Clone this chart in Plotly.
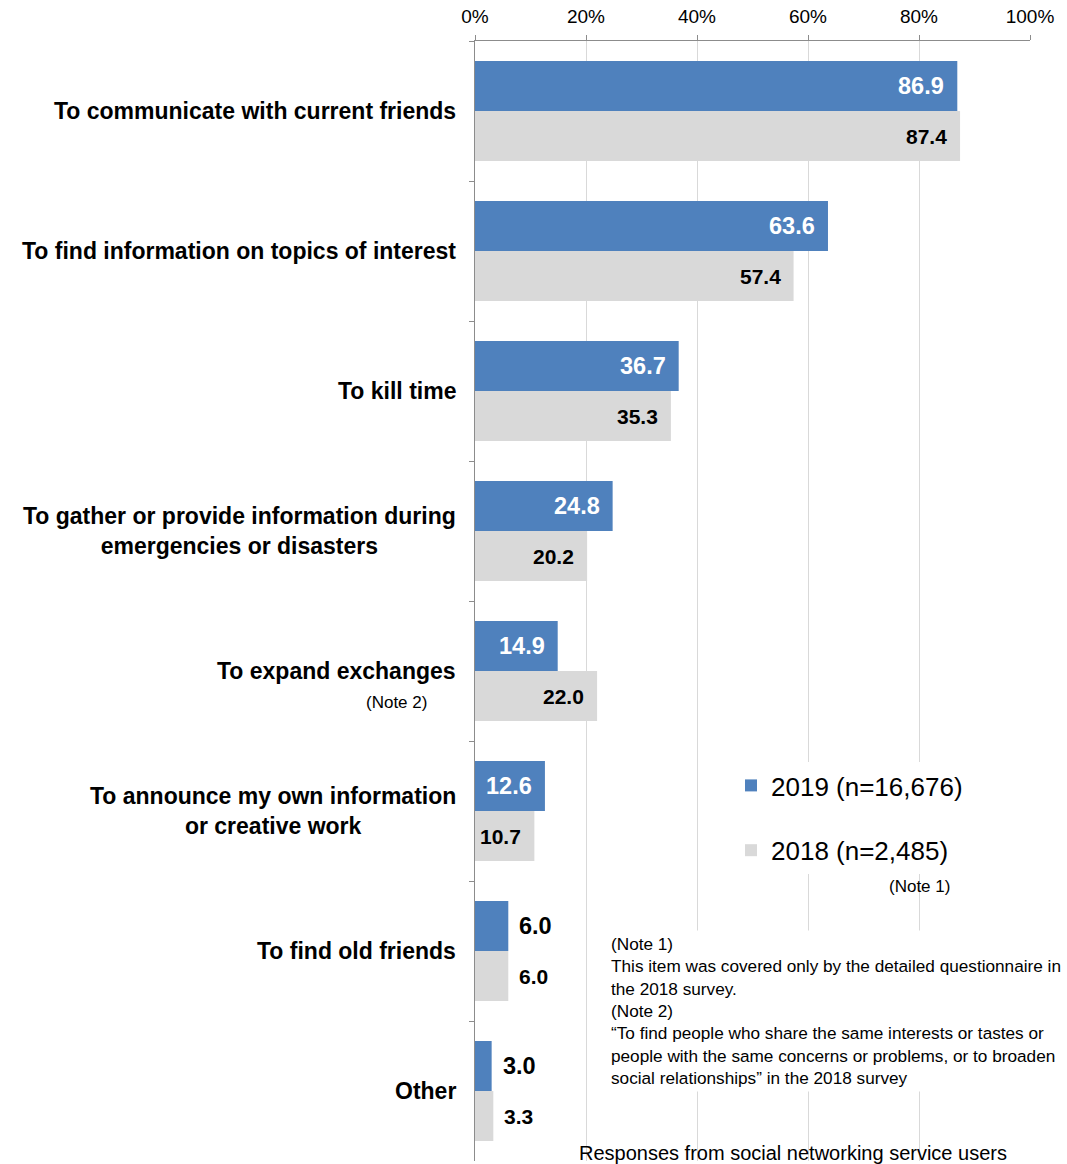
import plotly.graph_objects as go

# Reasons for using social networking services (multiple answers, %)
categories = [
    "To communicate with current friends",
    "To find information on topics of interest",
    "To kill time",
    "To gather or provide information during<br>emergencies or disasters",
    "To expand exchanges",
    "To announce my own information<br>or creative work",
    "To find old friends",
    "Other",
]
values_2019 = [86.9, 63.6, 36.7, 24.8, 14.9, 12.6, 6.0, 3.0]
values_2018 = [87.4, 57.4, 35.3, 20.2, 22.0, 10.7, 6.0, 3.3]
series_names = ["2019 (n=16,676)", "2018 (n=2,485)"]
tick_values = [0, 20, 40, 60, 80, 100]
tick_labels = ["0%", "20%", "40%", "60%", "80%", "100%"]

BLUE = "#4f81bd"
GREY = "#d9d9d9"
FONT = "Liberation Sans, Arial, sans-serif"

fig = go.Figure()
fig.add_trace(go.Bar(
    y=categories, x=values_2019, name=series_names[0], orientation="h",
    marker=dict(color=BLUE, line=dict(width=0)),
    legendgroup="a", hoverinfo="x+y",
))
fig.add_trace(go.Bar(
    y=categories, x=values_2018, name=series_names[1], orientation="h",
    marker=dict(color=GREY, line=dict(width=0)),
    legendgroup="b", hoverinfo="x+y",
))

annotations = []

# Category labels, centred lines, right-aligned against the axis
for cat in categories:
    annotations.append(dict(
        xref="paper", yref="y", x=0, y=cat, xanchor="right", yanchor="middle",
        xshift=-17, text=cat, showarrow=False, align="center",
        font=dict(family=FONT, size=23, color="#000000", weight="bold"),
    ))
annotations.append(dict(
    xref="paper", yref="y", x=0, y=categories[4], xanchor="right",
    yanchor="middle", xshift=-46, yshift=-31, text="(Note 2)",
    showarrow=False, font=dict(family=FONT, size=17, color="#000000"),
))

# Value labels: inside the bar end when it fits, otherwise just past it
for vals, offset, inside_color, size in (
    (values_2019, 25, "#ffffff", 23.5),
    (values_2018, -25, "#000000", 21),
):
    for cat, v in zip(categories, vals):
        inside = v >= 10
        annotations.append(dict(
            xref="x", yref="y", x=v, y=cat,
            xanchor="right" if inside else "left",
            xshift=-11 if inside else 9, yshift=offset,
            text=f"{v:.1f}", showarrow=False,
            font=dict(family=FONT, size=size, weight="bold",
                      color=inside_color if inside else "#000000"),
        ))

annotations.append(dict(
    xref="paper", yref="paper", x=(952 - 475) / 555, y=(1161 - 886) / 1120,
    xanchor="right", yanchor="middle", text="(Note 1)", showarrow=False,
    font=dict(family=FONT, size=17, color="#000000"),
))

notes = (
    "(Note 1)<br>"
    "This item was covered only by the detailed questionnaire in<br>"
    "the 2018 survey.<br>"
    "(Note 2)<br>"
    "\u201cTo find people who share the same interests or tastes or<br>"
    "people with the same concerns or problems, or to broaden<br>"
    "social relationships\u201d in the 2018 survey"
)
annotations.append(dict(
    xref="paper", yref="paper", x=(607 - 475) / 555, y=(1161 - 930) / 1120,
    xanchor="left", yanchor="top", text=notes, showarrow=False,
    align="left", bgcolor="#ffffff", borderpad=3,
    font=dict(family=FONT, size=17.2, color="#000000"),
))

annotations.append(dict(
    xref="paper", yref="paper", x=(793 - 475) / 555, y=(1161 - 1153) / 1120,
    xanchor="center", yanchor="middle",
    text="Responses from social networking service users", showarrow=False,
    font=dict(family=FONT, size=20, color="#000000"),
))

fig.update_layout(
    width=1067, height=1164,
    margin=dict(l=475, r=37, t=41, b=3, pad=0),
    paper_bgcolor="#ffffff", plot_bgcolor="#ffffff",
    barmode="group", bargap=0.2857, bargroupgap=0,
    font=dict(family=FONT, color="#000000"),
    showlegend=True,
    legend=dict(
        x=(731 - 475) / 555, y=(1161 - 762) / 1120,
        xanchor="left", yanchor="top",
        bgcolor="#ffffff", borderwidth=0,
        traceorder="grouped", tracegroupgap=28,
        font=dict(family=FONT, size=26, color="#000000"),
    ),
    annotations=annotations,
    xaxis=dict(
        side="top", range=[0, 100], tickvals=tick_values, ticktext=tick_labels,
        showgrid=True, gridcolor="#d9d9d9", gridwidth=1,
        showline=True, linecolor="#8c8c8c", linewidth=1,
        ticks="outside", ticklen=5, tickcolor="#8c8c8c",
        ticklabelstandoff=4,
        tickfont=dict(family=FONT, size=19, color="#000000"),
        zeroline=False, fixedrange=True,
    ),
    yaxis=dict(
        type="category", categoryorder="array", categoryarray=categories,
        autorange="reversed", showticklabels=False,
        showline=True, linecolor="#8c8c8c", linewidth=1,
        ticks="outside", ticklen=5, tickcolor="#8c8c8c",
        tickson="boundaries", showgrid=False, zeroline=False,
        fixedrange=True,
    ),
)

fig.write_html("out.html")
